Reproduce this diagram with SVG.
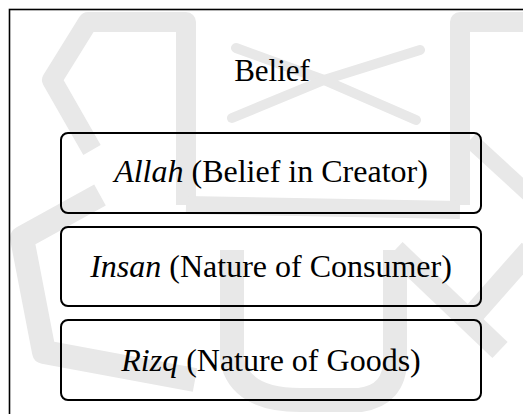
<svg xmlns="http://www.w3.org/2000/svg" width="523" height="414" viewBox="0 0 523 414">
  <style>
    .wm { fill: none; stroke: #e8e8e8; stroke-linejoin: round; }
    .frame { fill: none; stroke: #000; stroke-width: 1.6; }
    .box { fill: none; stroke: #000; stroke-width: 2; }
    text { font-family: "Liberation Serif", "DejaVu Serif", "Times New Roman", serif; fill: #000; text-anchor: middle; }
    .label { font-size: 32px; }
    .title { font-size: 31px; }
    .it { font-style: italic; }
  </style>

  <rect width="523" height="414" fill="#fff"/>

  <!-- faint background emblem -->
  <g id="emblem">
    <path class="wm" stroke-width="20" d="M186,205 L186,22 L88,22 L52,80 L92,150"/>
    <path class="wm" stroke-width="20" d="M460,205 L460,22 L530,22"/>
    <path class="wm" stroke-width="16" d="M470,140 L530,195"/>
    <path class="wm" stroke-width="18" d="M186,205 L460,210"/>
    <path class="wm" stroke-width="10" stroke-linecap="round" d="M236,48 L324,80 L416,120"/>
    <path class="wm" stroke-width="10" stroke-linecap="round" d="M232,118 L324,80 L420,50"/>
    <path class="wm" stroke-width="24" d="M100,195 L22,238 L44,352 L195,380"/>
    <path class="wm" stroke-width="24" d="M232,250 L232,360 Q240,400 300,400 L360,400 Q395,395 395,360 L395,250"/>
    <path class="wm" stroke-width="22" d="M395,250 L500,350"/>
    <path class="wm" stroke-width="22" d="M530,250 L470,318"/>
  </g>

  <!-- outer frame -->
  <rect id="frame" class="frame" x="9.5" y="9.5" width="560" height="460"/>

  <g id="belief">
    <text class="title" x="272" y="81" font-family="Liberation Serif, serif">Belief</text>
  </g>

  <g id="allah">
    <rect class="box" x="61" y="133" width="420" height="80" rx="7"/>
    <text class="label" x="271" y="182" font-family="Liberation Serif, serif"><tspan class="it">Allah</tspan> (Belief in Creator)</text>
  </g>

  <g id="insan">
    <rect class="box" x="61" y="227" width="420" height="79" rx="7"/>
    <text class="label" x="271" y="277" font-family="Liberation Serif, serif"><tspan class="it">Insan</tspan> (Nature of Consumer)</text>
  </g>

  <g id="rizq">
    <rect class="box" x="61" y="320" width="420" height="80" rx="7"/>
    <text class="label" x="271" y="371" font-family="Liberation Serif, serif"><tspan class="it">Rizq</tspan> (Nature of Goods)</text>
  </g>

  <g id="connectors"/>
</svg>
